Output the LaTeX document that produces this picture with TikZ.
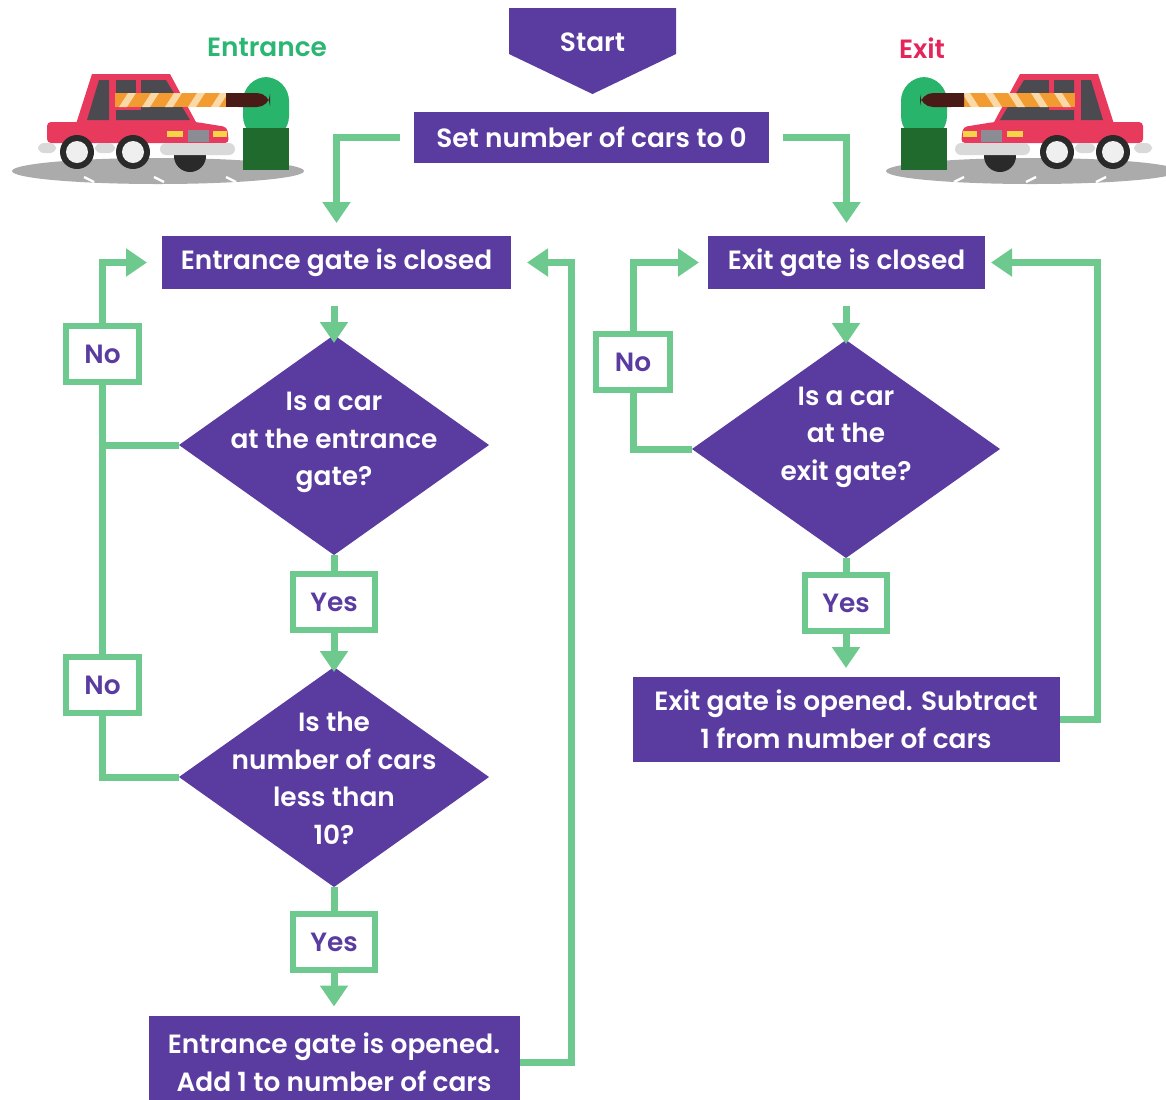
\documentclass[tikz,border=0pt]{standalone}
\usepackage{fontspec}
\IfFontExistsTF{Poppins SemiBold}{\setmainfont{Poppins SemiBold}}{%
  \IfFontExistsTF{Poppins Medium}{\setmainfont{Poppins Medium}}{\setmainfont{Poppins}[FakeBold=1.6]}}
\usepackage{tikz}
\usetikzlibrary{positioning,arrows.meta,shapes.geometric}
\definecolor{flowpurple}{HTML}{5A3BA0}
\definecolor{flowgreen}{HTML}{6DC98E}
\definecolor{entgreen}{HTML}{2BB673}
\definecolor{exitred}{HTML}{E5245A}
\definecolor{carred}{HTML}{E83A5C}
\definecolor{glass}{HTML}{4A4A50}
\definecolor{road}{HTML}{ABABAB}
\definecolor{chrome}{HTML}{D9D9D9}
\definecolor{tyre}{HTML}{2A2A2A}
\definecolor{hub}{HTML}{EFEFEF}
\definecolor{lamp}{HTML}{F5D547}
\definecolor{grille}{HTML}{8C8C94}
\definecolor{boom}{HTML}{F29B30}
\definecolor{boomstripe}{HTML}{FAD9A6}
\definecolor{knob}{HTML}{4A1B16}
\definecolor{posthi}{HTML}{28B46B}
\definecolor{postlo}{HTML}{1F6A2C}
\tikzset{
  txt/.style   = {font=\fontsize{13.2}{18.75}\selectfont},
  proc/.style  = {txt, rectangle, fill=flowpurple, text=white, inner sep=0pt, outer sep=0pt, align=center},
  dec/.style   = {diamond, fill=flowpurple, inner sep=0pt, outer sep=0pt, minimum width=155pt, minimum height=110pt},
  qtxt/.style  = {txt, text=white, align=center, inner sep=0pt},
  ans/.style   = {txt, rectangle, draw=flowgreen, line width=3pt, fill=white, text=flowpurple,
                  inner sep=0pt, minimum height=28pt},
  side/.style  = {txt, inner sep=0pt},
  ln/.style    = {draw=flowgreen, line width=3.5pt},
  ar/.style    = {ln, -{Triangle[length=10.5pt, width=13.5pt]}},
  % car waiting at a barrier, drawn facing right
  carscene/.pic = {
    \fill[road] (158,171) ellipse [x radius=73pt, y radius=6.5pt];
    \foreach \x in {84,154,226} \draw[white, line width=1.2pt] (\x,177) -- ++(10,5);
    \fill[tyre] (190,156) circle (8pt);
    % cabin and windows
    \fill[carred] (76,124) -- (92,74) -- (170,74) -- (197,124) -- cycle;
    \fill[glass] (87,120) -- (99,80) -- (109,80) -- (109,120) -- cycle;
    \fill[glass] (116,80) -- (166,80) -- (190,120) -- (116,120) -- cycle;
    \fill[carred] (136,80) rectangle (141,110);
    \fill[carred] (116,106) rectangle (141,110);
    % body
    \fill[carred, rounded corners=2pt] (47,122) -- (196,122) -- (227,127) -- (229,143) -- (47,143) -- cycle;
    \fill[lamp] (167,131) rectangle (183,137);
    \fill[lamp] (213,131) rectangle (227,137);
    \fill[grille] (188,130) rectangle (209,142);
    \fill[chrome, rounded corners=3pt] (160,143) rectangle (235,155);
    \fill[chrome, rounded corners=3pt] (38,143) rectangle (56,153);
    \fill[chrome, rounded corners=3pt] (95,143) rectangle (115,153);
    \foreach \x in {77,133} {
      \fill[tyre] (\x,152) circle (8.5pt);
      \fill[hub] (\x,152) circle (5.5pt);
    }
    % gate post
    \fill[posthi, rounded corners=12pt] (243,77) rectangle (289,140);
    \fill[postlo] (243,128) rectangle (289,170);
    % boom
    \fill[boom] (115,93) rectangle (232,107);
    \begin{scope}
      \clip (115,93) rectangle (232,107);
      \foreach \x in {128,151,174,197,220} \fill[boomstripe] (\x,93) -- ++(8,0) -- ++(-9,14) -- ++(-8,0) -- cycle;
    \end{scope}
    \fill[knob, rounded corners=6.5pt] (226,93) rectangle (270,107);
    \fill[knob] (226,93) rectangle (240,107);
  }
}
\begin{document}
\begin{tikzpicture}[x=0.5pt, y=-0.5pt]
  \useasboundingbox (0,0) rectangle (1166,1099);

  \pic at (0,0) {carscene};
  \pic[xscale=-1] at (1190,0) {carscene};
  \node[side, text=entgreen] (entlbl) at (267,47) {Entrance};
  \node[side, text=exitred] (exitlbl) at (922,48) {Exit};

  \fill[flowpurple] (509,8) -- (676,8) -- (676,54) -- (592.5,94) -- (509,54) -- cycle;
  \node[side, text=white] (start) at (592.5,42) {Start};
  \node[proc, minimum width=177.5pt, minimum height=25.5pt] (set) at (591.5,137.5) {Set number of cars to 0};

  % entrance branch
  \node[proc, minimum width=174.5pt, minimum height=26.5pt] (ec) at (336.5,262.5) {Entrance gate is closed};
  \node[dec] (d1) at (334,445) {};
  \node[qtxt] (q1) at (334,442.5) {Is a car\\at the entrance\\gate?};
  \node[ans, minimum width=36.5pt] (n1) at (102.5,354) {No};
  \node[ans, minimum width=41pt] (y1) at (334,602) {Yes};
  \node[dec] (d2) at (334,777) {};
  \node[qtxt] (q2) at (334,778.5) {Is the\\number of cars\\less than\\10?};
  \node[ans, minimum width=36.5pt] (n2) at (102.5,685) {No};
  \node[ans, minimum width=41pt] (y2) at (334,942) {Yes};
  \node[proc, minimum width=185.5pt, minimum height=46.5pt] (eo) at (334,1062) {Entrance gate is opened.\\Add 1 to number of cars};

  % exit branch
  \node[proc, minimum width=138.5pt, minimum height=26.5pt] (xc) at (846.5,262.5) {Exit gate is closed};
  \node[dec, minimum width=154pt, minimum height=109pt] (d3) at (846,449) {};
  \node[qtxt] (q3) at (846,437) {Is a car\\at the\\exit gate?};
  \node[ans, minimum width=37pt] (n3) at (633,362) {No};
  \node[ans, minimum width=41pt] (y3) at (846,603) {Yes};
  \node[proc, minimum width=213.5pt, minimum height=42.5pt] (xo) at (846,719.5) {Exit gate is opened. Subtract\\1 from number of cars};

  \coordinate (erun) at (571,262.5);
  \coordinate (xrun) at (1097,262.5);

  \draw[ar] ([xshift=-7pt]set.west) -| ([yshift=6.5pt]ec.north);
  \draw[ar] ([xshift=7pt]set.east) -| ([yshift=6.5pt]xc.north);

  \draw[ar] (d1.north |- ec.south) ++(0,17) -- ([yshift=-4pt]d1.north);
  \draw[ln] (d1.south) -- (y1.north);
  \draw[ar] (y1.south) -- ([yshift=-2.5pt]d2.north);
  \draw[ln] (d2.south) -- (y2.north);
  \draw[ar] (y2.south) -- ([yshift=4.5pt]eo.north);
  \draw[ln] (d1.west) -- (d1.west -| n1.south);
  \draw[ln] (d2.west) -| (n2.south);
  \draw[ln] (n2.north) -- (n1.south);
  \draw[ar] (n1.north) |- ([xshift=-7.5pt]ec.west);
  \draw[ar] (eo.east) -| (erun) -- ([xshift=8pt]ec.east);

  \draw[ar] (d3.north |- xc.south) ++(0,17) -- ([yshift=-2pt]d3.north);
  \draw[ln] (d3.south) -- (y3.north);
  \draw[ar] (y3.south) -- ([yshift=4.5pt]xo.north);
  \draw[ln] (d3.west) -| (n3.south);
  \draw[ar] (n3.north) |- ([xshift=-4.5pt]xc.west);
  \draw[ar] (xo.east) -| (xrun) -- ([xshift=3pt]xc.east);
\end{tikzpicture}
\end{document}
